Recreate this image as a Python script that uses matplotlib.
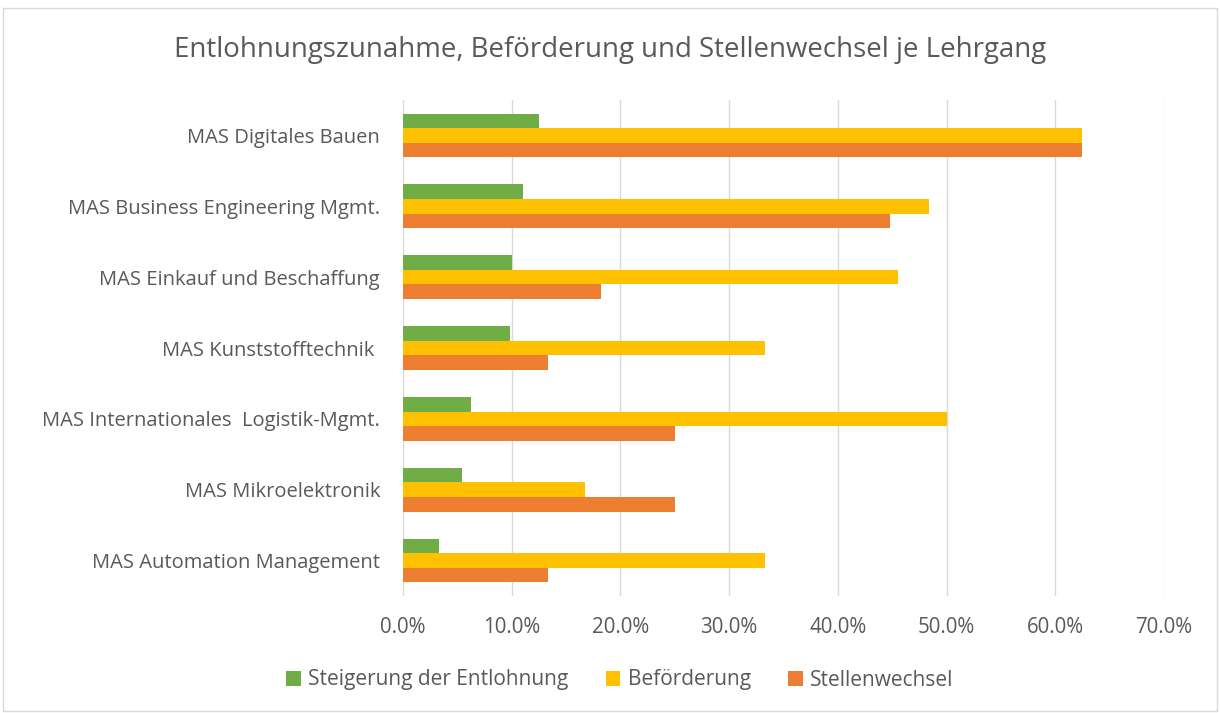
import numpy as np
import matplotlib
matplotlib.use("Agg")
import matplotlib.pyplot as plt
from matplotlib.patches import Rectangle
from matplotlib.ticker import PercentFormatter

plt.rcParams['font.family'] = ['Open Sans', 'DejaVu Sans']

# Lehrgänge von oben nach unten
lehrgaenge = [
    "MAS Digitales Bauen",
    "MAS Business Engineering Mgmt.",
    "MAS Einkauf und Beschaffung",
    "MAS Kunststofftechnik ",
    "MAS Internationales  Logistik-Mgmt.",
    "MAS Mikroelektronik",
    "MAS Automation Management",
]
entlohnung = [12.5, 11.0, 10.0, 9.8, 6.25, 5.4, 3.3]
befoerderung = [62.5, 48.4, 45.5, 33.3, 50.0, 16.7, 33.3]
stellenwechsel = [62.5, 44.8, 18.2, 13.3, 25.0, 25.0, 13.3]
xticks = [0, 10, 20, 30, 40, 50, 60, 70]

grau = '#595959'

fig = plt.figure(figsize=(12.2, 7.13), dpi=100)
ax = fig.add_axes([403 / 1220, 1 - 596 / 713, 761 / 1220, 496 / 713])

# Rahmen um das Diagramm
fig.patches.append(Rectangle((3 / 1220, 2 / 713), 1214 / 1220, 703 / 713,
                             transform=fig.transFigure, fill=False,
                             edgecolor='#d9d9d9', linewidth=1))

y = np.arange(len(lehrgaenge))
h = 0.205
ax.barh(y - h, entlohnung, height=h, color='#70AD47', label='Steigerung der Entlohnung')
ax.barh(y, befoerderung, height=h, color='#FFC000', label='Beförderung')
ax.barh(y + h, stellenwechsel, height=h, color='#ED7D31', label='Stellenwechsel')

ax.set_ylim(len(lehrgaenge) - 0.5, -0.5)
ax.set_xlim(0, 70)
ax.set_xticks(xticks)
ax.xaxis.set_major_formatter(PercentFormatter(decimals=1))
ax.set_yticks(y)
ax.set_yticklabels(lehrgaenge)

ax.grid(axis='x', color='#d9d9d9', linewidth=1)
ax.set_axisbelow(True)
for s in ax.spines.values():
    s.set_visible(False)
ax.tick_params(axis='both', length=0, labelcolor=grau)
ax.tick_params(axis='y', pad=16.5, labelsize=14.5)
ax.tick_params(axis='x', pad=15, labelsize=14.8)

fig.text(0.5, 1 - 50 / 713, 'Entlohnungszunahme, Beförderung und Stellenwechsel je Lehrgang',
         ha='center', va='center', fontsize=19.9, color=grau)

fig.legend(loc='center', bbox_to_anchor=(0.508, 1 - 680 / 713), ncol=3,
           frameon=False, fontsize=15, labelcolor=grau, handlelength=0.7,
           handleheight=0.7, handletextpad=0.35, columnspacing=1.8)

fig.savefig('out.png', dpi=100)
